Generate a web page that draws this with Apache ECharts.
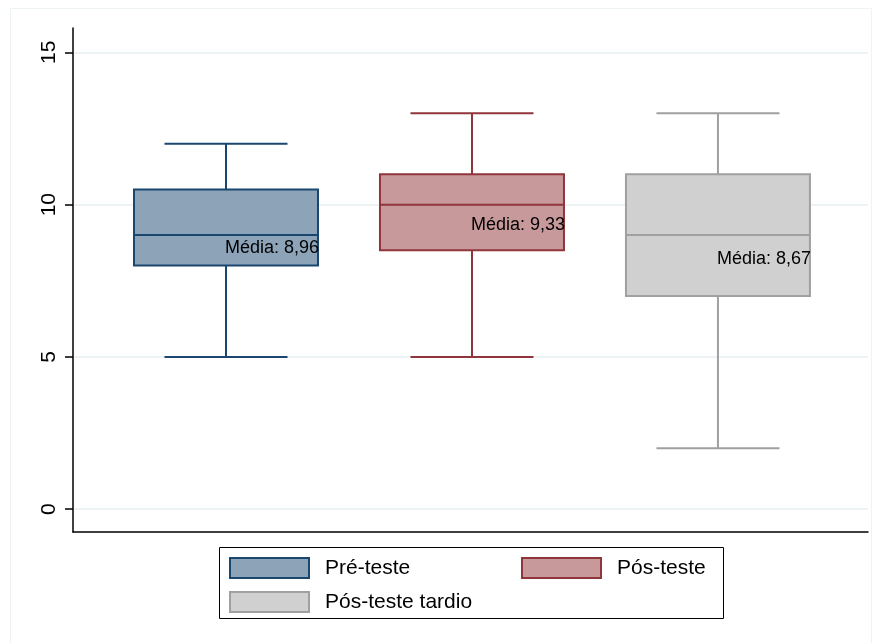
<!DOCTYPE html>
<html>
<head>
<meta charset="utf-8">
<script src="https://cdn.jsdelivr.net/npm/echarts@6/dist/echarts.min.js"></script>
<style>
  html, body { margin: 0; padding: 0; background: #ffffff; }
  #chart { width: 880px; height: 643px; }
</style>
</head>
<body>
<div id="chart"></div>
<script>
// Score distributions per test moment
const categories = ['Pré-teste', 'Pós-teste', 'Pós-teste tardio'];
const lowerWhisker = [5, 5, 2];
const lowerQuartile = [8, 8.5, 7];
const medians = [9, 10, 9];
const upperQuartile = [10.5, 11, 11];
const upperWhisker = [12, 13, 13];
const means = [8.96, 9.33, 8.67];
const yTicks = [0, 5, 10, 15];

const fills = ['#8ca3b8', '#c8999b', '#d0d0d0'];
const strokes = ['#1a476f', '#90353b', '#a0a0a0'];
// small vertical shift (px) of each mean annotation
const meanLabelNudge = [12, 0, 14];

const FONT = '"Liberation Sans", Arial, Helvetica, sans-serif';
const HALF_BOX = 0.374;
const HALF_CAP = 0.25;

function fmtMean(v) {
  return 'Média: ' + v.toFixed(2).replace('.', ',');
}

function makeRender(idx) {
  return function (params, api) {
    const x = api.value(0);
    const lo = api.value(1), q1 = api.value(2), med = api.value(3),
          q3 = api.value(4), hi = api.value(5), mean = api.value(6);
    const c = (xx, yy) => api.coord([xx, yy]);
    const pLo = c(x, lo), pQ1 = c(x, q1), pQ3 = c(x, q3), pHi = c(x, hi);
    const boxL = c(x - HALF_BOX, med)[0], boxR = c(x + HALF_BOX, med)[0];
    const capL = c(x - HALF_CAP, lo)[0], capR = c(x + HALF_CAP, lo)[0];
    const yMed = c(x, med)[1];
    const pMean = c(x, mean);
    const line = { stroke: strokes[idx], lineWidth: 2 };
    return {
      type: 'group',
      children: [
        { type: 'line', shape: { x1: pLo[0], y1: pLo[1], x2: pQ1[0], y2: pQ1[1] }, style: line },
        { type: 'line', shape: { x1: pQ3[0], y1: pQ3[1], x2: pHi[0], y2: pHi[1] }, style: line },
        { type: 'line', shape: { x1: capL, y1: pLo[1], x2: capR, y2: pLo[1] }, style: line },
        { type: 'line', shape: { x1: capL, y1: pHi[1], x2: capR, y2: pHi[1] }, style: line },
        { type: 'rect', shape: { x: boxL, y: pQ3[1], width: boxR - boxL, height: pQ1[1] - pQ3[1] },
          style: { fill: fills[idx], stroke: strokes[idx], lineWidth: 2 } },
        { type: 'line', shape: { x1: boxL, y1: yMed, x2: boxR, y2: yMed }, style: line },
        { type: 'text', z2: 10,
          style: { x: pMean[0] - 1, y: pMean[1] + meanLabelNudge[idx], text: fmtMean(mean),
                   fill: '#000', font: '18px ' + FONT, align: 'left', verticalAlign: 'middle' } }
      ]
    };
  };
}

const series = categories.map((name, i) => ({
  name: name,
  type: 'custom',
  renderItem: makeRender(i),
  encode: { x: 0, y: [1, 2, 3, 4, 5] },
  itemStyle: { color: fills[i], borderColor: strokes[i], borderWidth: 2 },
  data: [[i + 1, lowerWhisker[i], lowerQuartile[i], medians[i], upperQuartile[i], upperWhisker[i], means[i]]]
}));

const legendItem = (i) => ({
  name: categories[i],
  itemStyle: { color: fills[i], borderColor: strokes[i], borderWidth: 2 }
});
const legendCommon = {
  orient: 'vertical',
  top: 557,
  itemWidth: 79,
  itemHeight: 20,
  itemGap: 12,
  icon: 'rect',
  padding: 0,
  selectedMode: false,
  textStyle: { color: '#000', fontSize: 21, fontFamily: FONT, padding: [0, 0, 0, 11] }
};

const chart = echarts.init(document.getElementById('chart'), null, { renderer: 'canvas' });
chart.setOption({
  animation: false,
  backgroundColor: '#ffffff',
  textStyle: { fontFamily: FONT },
  grid: { left: 73, right: 12, top: 28, bottom: 111, containLabel: false },
  xAxis: {
    type: 'value', min: 0.378, max: 3.61,
    axisLine: { show: true, onZero: false, lineStyle: { color: '#000', width: 1.5 } },
    axisTick: { show: false }, axisLabel: { show: false }, splitLine: { show: false }
  },
  yAxis: {
    type: 'value', min: -0.75, max: 15.8,
    axisLine: { show: true, onZero: false, lineStyle: { color: '#000', width: 1.5 } },
    axisTick: { show: true, customValues: yTicks, length: 8, lineStyle: { color: '#000', width: 1.5 } },
    axisLabel: { customValues: yTicks, rotate: 90, margin: 13, fontSize: 21, color: '#000', fontFamily: FONT },
    splitLine: { show: true, lineStyle: { color: '#e8f0f2', width: 1.5 } }
  },
  legend: [
    Object.assign({}, legendCommon, { left: 229, data: [legendItem(0), legendItem(2)] }),
    Object.assign({}, legendCommon, { left: 521, data: [legendItem(1)] })
  ],
  graphic: [
    { type: 'rect', silent: true, z: -1,
      shape: { x: 10.5, y: 8.5, width: 861, height: 660 },
      style: { fill: 'none', stroke: '#eef3f3', lineWidth: 1 } },
    { type: 'rect', silent: true,
      shape: { x: 219.5, y: 547.5, width: 504, height: 71 },
      style: { fill: 'none', stroke: '#000', lineWidth: 1 } }
  ],
  series: series
});
</script>
</body>
</html>
